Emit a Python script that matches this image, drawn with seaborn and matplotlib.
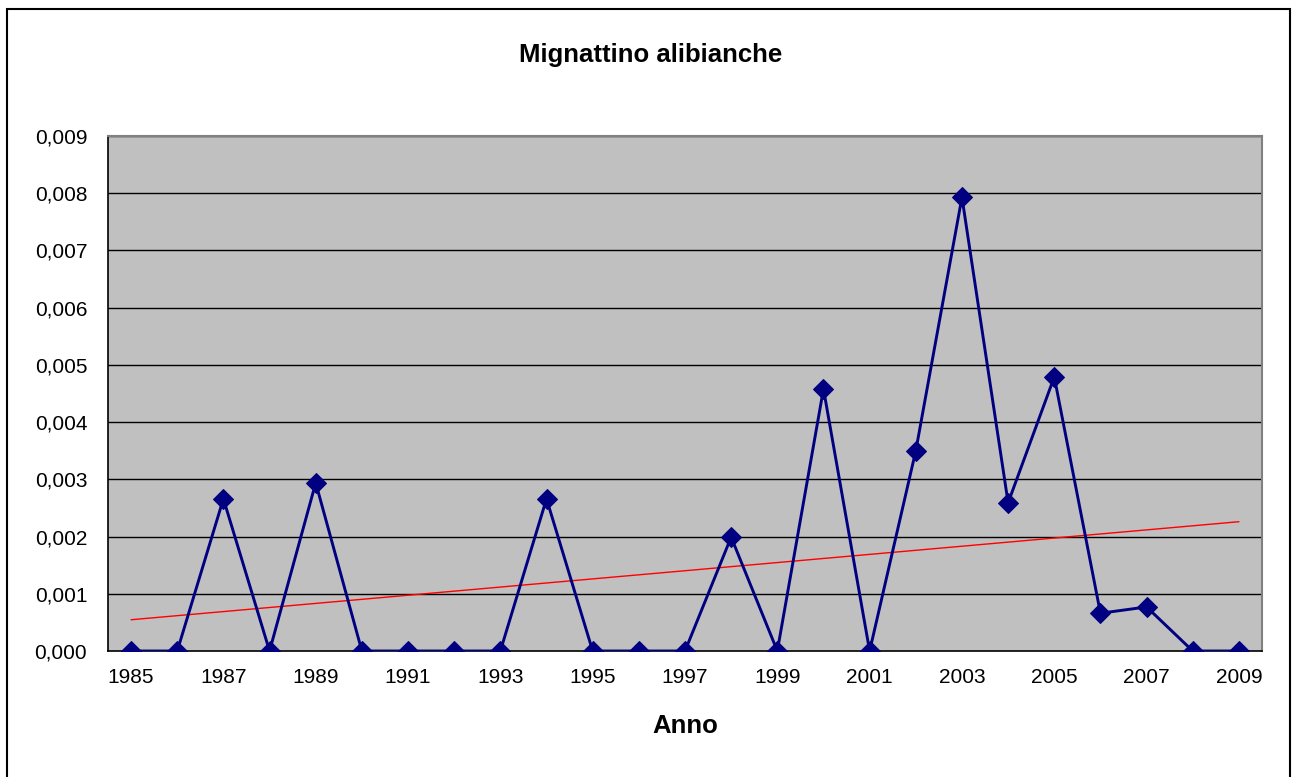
import numpy as np
import pandas as pd
import matplotlib
matplotlib.use('Agg')
import matplotlib.pyplot as plt
import seaborn as sns
from matplotlib.ticker import FuncFormatter, FixedLocator

# dati
anni = list(range(1985, 2010))
valori = [0, 0, 0.00266, 0, 0.00294, 0, 0, 0, 0, 0.00266, 0, 0, 0,
          0.00199, 0, 0.00458, 0, 0.00350, 0.00793, 0.00259, 0.00479,
          0.00066, 0.00077, 0, 0]
titolo = 'Mignattino alibianche'
etichetta_x = 'Anno'

sns.set_theme(style='white')
plt.rcParams['font.family'] = ['Liberation Sans', 'DejaVu Sans']
plt.rcParams['text.color'] = 'black'
plt.rcParams['axes.labelcolor'] = 'black'

df = pd.DataFrame({'anno': anni, 'valore': valori})
df['pos'] = np.arange(len(df))

fig = plt.figure(figsize=(12.92, 7.77), dpi=100)
ax = fig.add_axes([108 / 1292, 126 / 777, 1154 / 1292, 515 / 777])
ax.set_facecolor('#c0c0c0')

# griglia orizzontale nera
for v in np.arange(0.001, 0.0095, 0.001):
    ax.axhline(v, color='black', lw=1.0, zorder=1)

sns.lineplot(data=df, x='pos', y='valore', ax=ax, color='#000080', lw=2.1,
             marker='D', markersize=10, markeredgecolor='#000080', zorder=3)

# linea di tendenza lineare
coef = np.polyfit(df['pos'], df['valore'], 1)
ax.plot(df['pos'], np.polyval(coef, df['pos']), color='red', lw=1.0, zorder=2)

ax.set_xlim(-0.5, len(df) - 0.5)
ax.set_ylim(0, 0.009)
ax.set_yticks(np.arange(0, 0.0095, 0.001))
ax.yaxis.set_major_formatter(FuncFormatter(lambda v, p: f'{v:.3f}'.replace('.', ',')))

ax.xaxis.set_major_locator(FixedLocator(df['pos'][::2].tolist()))
ax.set_xticklabels([str(a) for a in df['anno'][::2]])
ax.xaxis.set_minor_locator(FixedLocator(np.arange(-0.5, len(df), 1.0)))
ax.tick_params(axis='x', which='major', length=0, pad=12, labelsize=15)
ax.tick_params(axis='x', which='minor', length=6, width=1, color='black', direction='out')
ax.tick_params(axis='y', length=6, width=1, color='black', direction='out', pad=9, labelsize=15)
ax.tick_params(axis='both', labelcolor='black')

for s in ['left', 'bottom']:
    ax.spines[s].set_color('black')
    ax.spines[s].set_linewidth(1.2)
for s in ['top', 'right']:
    ax.spines[s].set_color('#808080')
    ax.spines[s].set_linewidth(1.5)

ax.set_xlabel(etichetta_x, fontsize=18.5, fontweight='bold', labelpad=20)
ax.set_ylabel('')
# titolo centrato sull'area del grafico, non sugli assi
fig.text(651 / 1292, 1 - 62 / 777, titolo, fontsize=18.5, fontweight='bold',
         ha='center', va='baseline')

# bordo della figura
fig.patches.append(plt.Rectangle((7 / 1292, -0.01), 1283 / 1292, 768 / 777 + 0.01,
                                 transform=fig.transFigure, fill=False,
                                 edgecolor='black', lw=1.5))

fig.savefig('out.png', dpi=100)
